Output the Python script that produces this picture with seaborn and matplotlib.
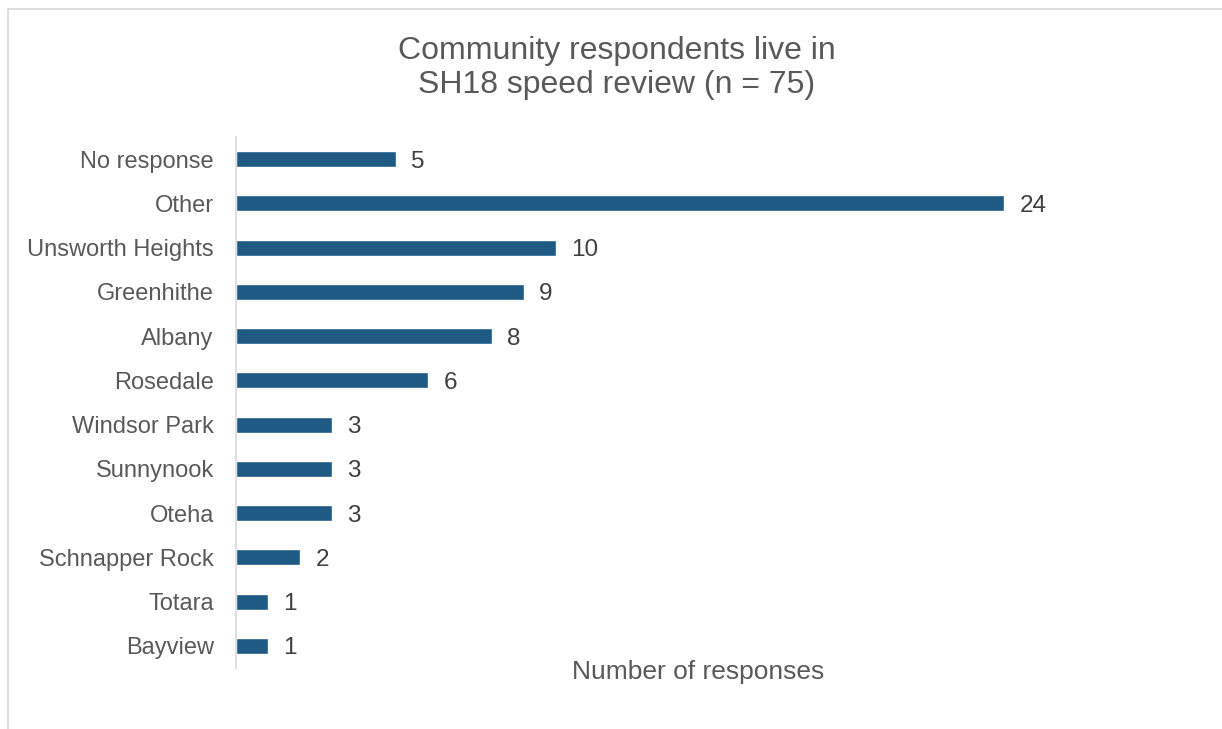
import pandas as pd
import seaborn as sns
import matplotlib.pyplot as plt
from matplotlib.patches import Rectangle

# data
suburbs = ['No response', 'Other', 'Unsworth Heights', 'Greenhithe', 'Albany', 'Rosedale',
           'Windsor Park', 'Sunnynook', 'Oteha', 'Schnapper Rock', 'Totara', 'Bayview']
responses = [5, 24, 10, 9, 8, 6, 3, 3, 3, 2, 1, 1]

df = pd.DataFrame({'Suburb': suburbs, 'Responses': responses})

sns.set_style('white')
plt.rcParams['font.family'] = ['Liberation Sans', 'DejaVu Sans']

fig = plt.figure(figsize=(12.22, 7.29), dpi=100)
ax = fig.add_axes([236 / 1222, 61 / 729, 924 / 1222, 531 / 729])

sns.barplot(data=df, x='Responses', y='Suburb', orient='h', color='#1F5A85',
            width=0.36, saturation=1, ax=ax)

labels = ax.bar_label(ax.containers[0], padding=11, fontsize=17.5, color='#404040')
for t in labels:
    t.set_verticalalignment('center_baseline')

ax.set_xlim(0, 28.875)
ax.set_ylim(11.5, -0.5)
ax.set_xticks([])
ax.set_xlabel('')
ax.set_ylabel('')
ax.tick_params(axis='y', length=0, pad=16, labelsize=17, labelcolor='#595959')
for side in ['top', 'right', 'bottom']:
    ax.spines[side].set_visible(False)
ax.spines['left'].set_color('#d9d9d9')
ax.spines['left'].set_linewidth(1.2)

fig.text(698 / 1222, 1 - 672 / 729, 'Number of responses', ha='center', va='center',
         fontsize=19, color='#595959')
fig.text(617 / 1222, 1 - 68 / 729, 'Community respondents live in\nSH18 speed review (n = 75)',
         ha='center', va='center', fontsize=23, color='#595959', linespacing=1.15)

# chart frame
fig.patches.append(Rectangle((8 / 1222, -0.01), 1.0, 1 - 9 / 729 + 0.01, transform=fig.transFigure,
                             fill=False, edgecolor='#d9d9d9', linewidth=1.2))

fig.savefig('out.png', dpi=100)
